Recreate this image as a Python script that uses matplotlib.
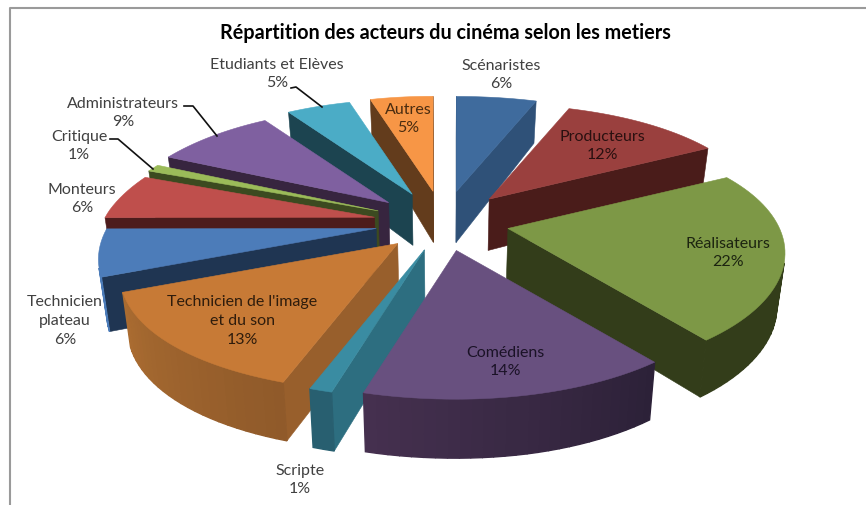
import numpy as np
import matplotlib
matplotlib.use('Agg')
import matplotlib.pyplot as plt
from matplotlib.patches import Polygon

plt.rcParams['font.family'] = ['Lato', 'DejaVu Sans']

# data
metiers = ['Scénaristes', 'Producteurs', 'Réalisateurs', 'Comédiens', 'Scripte',
           "Technicien de l'image\net du son", 'Technicien\nplateau', 'Monteurs',
           'Critique', 'Administrateurs', 'Etudiants et Elèves', 'Autres']
parts = [6, 12, 22, 14, 1, 13, 6, 6, 1, 9, 5, 5]
titre = 'Répartition des acteurs du cinéma selon les metiers'

# colours per slice
top_col = ['#3f6b9d', '#9a403e', '#7d9846', '#68507f', '#3a8ca2', '#c77a36',
           '#4c7cb9', '#bf4f4c', '#9bbb59', '#7f60a0', '#4bacc6', '#f79646']
wall_col = ['#2f5178', '#4a1c1a', '#333d1a', '#2e2239', '#2d6e80', '#985f2c',
            '#1f3552', '#4d1c1c', '#3c4a20', '#37253f', '#1c4450', '#633c1c']
arc_left = ['#2f5178', '#4a1c1a', '#333d1a', '#45304f', '#285f70', '#aa6c31',
            '#4c7cb9', '#bf4f4c', '#9bbb59', '#7f60a0', '#4bacc6', '#f79646']
arc_right = ['#2f5178', '#4a1c1a', '#333d1a', '#2c2138', '#285f70', '#905a2a',
             '#4c7cb9', '#bf4f4c', '#9bbb59', '#7f60a0', '#4bacc6', '#f79646']

# label centres, pixels
label_xy = [(501, 75), (602, 146), (728, 253), (505, 362), (300, 480), (242, 321),
            (65, 321), (82, 199), (79, 146), (123, 113), (277, 74), (408, 119)]
label_col = ['#404040', '#2a1010', '#1c2410', '#1a1226', '#404040', '#2e1c0c',
             '#404040', '#404040', '#404040', '#404040', '#404040', '#4a2c10']

# projection of the pie
cx, cy = 444, 222
ex_right, ex_left, ey = 66, 70, 30      # explosion
rx_right, rx_left = 268, 265
px_right, px_back_left, px_front_left = 0.254, 0.32, 0.30
ry = 116
persp_y = 0.22


def rim(theta):
    X = np.sin(theta)
    Y = np.cos(theta)
    rx = np.where(X < 0, rx_left, rx_right)
    px = np.where(X < 0, np.where(Y > 0, px_back_left, px_front_left), px_right)
    return rx * X / (1 + px * Y), -ry * Y / (1 + persp_y * Y) - 7 * X ** 2


def bottom(x, y):
    d = np.interp(y, [100, 192, 396], [42, 51, 59])
    return cx + (x - cx) * 0.976, y + d


def area(pts):
    p = np.array(pts)
    x, y = p[:, 0], p[:, 1]
    return 0.5 * np.sum(x * np.roll(y, -1) - np.roll(x, -1) * y)


def face(ax, pts, col, z, lw=0.4):
    # culling: faces turned away are not drawn
    if area(pts) < 0:
        ax.add_patch(Polygon(pts, closed=True, fc=col, ec=col, lw=lw, zorder=z))


fig = plt.figure(figsize=(8.66, 5.06), dpi=100)
ax = fig.add_axes([0, 0, 1, 1])
ax.set_xlim(0, 866)
ax.set_ylim(506, 0)
ax.axis('off')

# chart frame
ax.plot([10, 10, 866], [506, 9, 9], color='#9a9a9a', lw=1.5, zorder=1)

edges = np.cumsum([0] + parts) / sum(parts) * 2 * np.pi
mid = (edges[:-1] + edges[1:]) / 2
order = np.argsort(-np.cos(mid))

z = 2
for i in order:
    a = mid[i]
    ex = ex_right if np.sin(a) > 0 else ex_left
    ax0 = cx + ex * np.sin(a)
    ay0 = cy - ey * np.cos(a)
    th = np.linspace(edges[i], edges[i + 1], max(3, int(parts[i] * 2)))
    dx, dy = rim(th)
    tx, ty = ax0 + dx, ay0 + dy
    bx, by = bottom(tx, ty)
    apx, apy = bottom(ax0, ay0)

    # radial walls
    face(ax, [(ax0, ay0), (tx[0], ty[0]), (bx[0], by[0]), (apx, apy)], wall_col[i], z)
    face(ax, [(tx[-1], ty[-1]), (ax0, ay0), (apx, apy), (bx[-1], by[-1])], wall_col[i], z)
    z += 1

    # outer side, shaded from right to left
    c0 = np.array(matplotlib.colors.to_rgb(arc_right[i]))
    c1 = np.array(matplotlib.colors.to_rgb(arc_left[i]))
    for k in range(len(th) - 1):
        t = k / max(1, len(th) - 2)
        col = c0 + (c1 - c0) * t
        face(ax, [(tx[k], ty[k]), (tx[k + 1], ty[k + 1]), (bx[k + 1], by[k + 1]), (bx[k], by[k])], col, z, lw=1.0)
    z += 1

    # top
    pts = [(ax0, ay0)] + list(zip(tx, ty))
    ax.add_patch(Polygon(pts, closed=True, fc=top_col[i], ec=top_col[i], lw=0.4, zorder=z))
    z += 1

# leader lines
ax.plot([291, 296, 322], [89, 88, 108], color='#111111', lw=1.2, zorder=50)
ax.plot([184, 193, 217], [107, 107, 137], color='#111111', lw=1.2, zorder=50)
ax.plot([110, 118, 153], [140, 140, 170], color='#111111', lw=1.2, zorder=50)

for i in range(len(parts)):
    ax.text(label_xy[i][0], label_xy[i][1], metiers[i] + '\n%d%%' % parts[i], ha='center', va='center',
            fontsize=11.5, color=label_col[i], linespacing=1.42, zorder=60)

ax.text(445, 33, titre, ha='center', va='center', fontsize=14.2, fontweight='bold', color='black', zorder=60)

fig.savefig('out.png', dpi=100)
